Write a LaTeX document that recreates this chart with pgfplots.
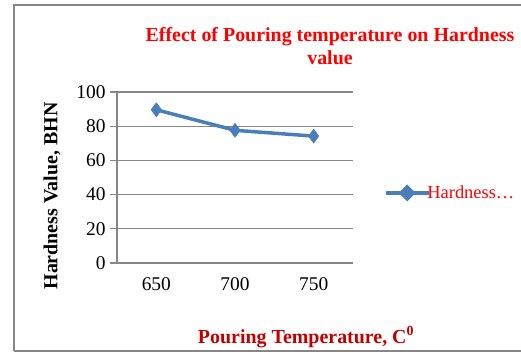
\documentclass[border=0pt]{standalone}
\usepackage{fontspec}
\setmainfont{Liberation Serif}
\usepackage{pgfplots}
\pgfplotsset{compat=1.18}
\definecolor{exblue}{HTML}{4A7EBB}
\definecolor{gridgray}{HTML}{868686}
\definecolor{darkred}{HTML}{C00000}
\begin{document}
\begin{tikzpicture}[x=1bp,y=1bp]
\useasboundingbox (0,0) rectangle (521,353);
\draw[gridgray,line width=1.8bp] (14,353-351) -- (14,353-5) -- (530,353-5);
\draw[gridgray,line width=2.5bp] (14,353-351) -- (530,353-351);
\begin{axis}[
  at={(117bp,90bp)}, anchor=south west,
  scale only axis, width=236bp, height=171bp,
  xmin=0.5, xmax=3.5, ymin=0, ymax=100,
  xtick={1,2,3}, xticklabels={650,700,750},
  ytick={0,20,...,100},
  axis lines=left,
  axis line style={gridgray,line width=1.2bp,-},
  x axis line style={draw=none},
  ymajorgrids,
  grid style={gridgray,line width=1.2bp},
  major tick length=7bp,
  tick align=outside,
  ytick style={gridgray,line width=1.2bp},
  xtick style={draw=none},
  /pgf/number format/assume math mode=true,
  tick label style={font=\fontsize{19.5}{21}\selectfont},
  yticklabel style={xshift=-1bp},
  xticklabel style={yshift=-4bp},
  clip=false,
  legend style={at={(1.13,0.41)}, anchor=west, draw=none, fill=none,
    font=\fontsize{18.5}{22}\selectfont\color{red}, inner sep=0pt},
  legend cell align=left,
  legend image code/.code={
    \draw[exblue,line width=3.5bp] (0bp,0bp) -- (43bp,0bp);
    \fill[exblue] (21.5bp,0bp) +(-6bp,0) -- +(0,6bp) -- +(6bp,0) -- +(0,-6bp) -- cycle;
  },
]
\addplot[exblue, line width=3.5bp, mark=diamond*, mark size=7bp, mark options={fill=exblue,draw=exblue,line width=0.5bp}]
  coordinates {(1,89.6) (2,77.6) (3,74.2)};
\addlegendentry{\hspace{-5bp}Hardness\ldots}
\end{axis}
\node[red,font=\bfseries\fontsize{20}{23}\selectfont,align=center] at (330,353-46) {Effect of Pouring temperature on Hardness\\value};
\node[darkred,font=\bfseries\fontsize{20}{22}\selectfont] at (306,353-337) {Pouring Temperature, C$^{\mathbf{0}}$};
\node[black,font=\bfseries\fontsize{20}{22}\selectfont,rotate=90] at (52,353-196) {Hardness Value, BHN};
\end{tikzpicture}
\end{document}
